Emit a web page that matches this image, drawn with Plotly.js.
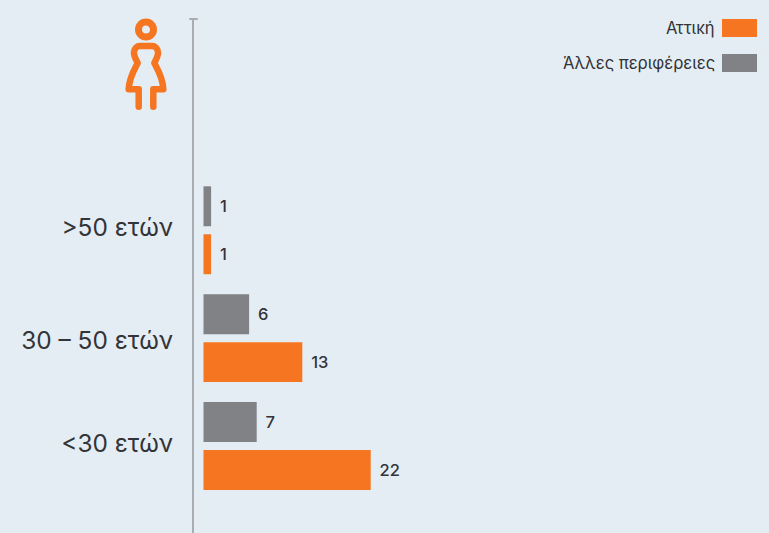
<!DOCTYPE html>
<html><head><meta charset="utf-8">
<script src="https://cdn.plot.ly/plotly-3.0.1.min.js"></script>
<style>html,body{margin:0;padding:0;background:#e4edf3}#c{width:769px;height:533px}
.shapelayer path{stroke-linejoin:round;stroke-linecap:round}</style></head>
<body><div id="c"></div>
<script>
const categories = ['<30 ετών', '30 – 50 ετών', '>50 ετών'];
const seriesNames = ['Αττική', 'Άλλες περιφέρειες'];
const attiki = [22, 13, 1];
const alles = [7, 6, 1];
const tickPositions = [0.02, 0.98, 2.03];

const W = 769, H = 533, L = 194, T = 19;
const px = x => (x - L) / (W - L);
const py = y => 1 - (y - T) / (H - T);
const ORANGE = '#f57520', GRAY = '#818285', TEXT = '#333438', FONT = 'Inter, "Noto Sans", sans-serif';

const iconPts = 'M138.7 106.7 L138.7 89.3 L128.7 89.3 C129 78 134 70 137.7 63 C135 58 133.5 55 134 52 C134.5 48 137 46 140 46 L152 46 C155 46 157.5 48 158 52 C158.5 55 157 58 154.3 63 C158 70 163 78 163.3 89.3 L153.3 89.3 L153.3 106.7';
const iconPath = iconPts.replace(/([MLC ])\s*(\d+\.?\d*) (\d+\.?\d*)/g, (m, c, a, b) => `${c}${px(+a).toFixed(5)},${py(+b).toFixed(5)}`);

function bar(name, vals, color) {
  return {
    type: 'bar', orientation: 'h', name, y: categories, x: vals,
    marker: {color, line: {width: 0}},
    text: vals.map(v => '\u00a0\u200a' + v), textposition: 'outside', cliponaxis: false,
    textfont: {family: FONT, size: 16.5, color: TEXT, weight: 500},
    hoverinfo: 'x+y'
  };
}

const legendRows = [
  {label: seriesNames[0], color: ORANGE, yc: 28},
  {label: seriesNames[1], color: GRAY, yc: 63}
];

const layout = {
  width: W, height: H,
  margin: {l: L, r: 0, t: T, b: 0, pad: 0},
  paper_bgcolor: '#e4edf3', plot_bgcolor: '#e4edf3',
  barmode: 'group', bargap: 0.111, bargroupgap: 0.167,
  showlegend: false,
  font: {family: FONT, color: TEXT},
  xaxis: {range: [-1.25, 74.4], visible: false, fixedrange: true},
  yaxis: {
    type: 'category', categoryorder: 'array', categoryarray: categories,
    range: [-0.806, 3.958], fixedrange: true,
    showline: true, linecolor: '#a9adb1', linewidth: 2, showgrid: false, zeroline: false,
    tickmode: 'array', tickvals: tickPositions, ticktext: categories,
    ticks: '', ticklabelstandoff: 14,
    tickfont: {family: FONT, size: 24.4, color: TEXT}
  },
  shapes: [
    {type: 'line', xref: 'paper', yref: 'paper', x0: px(190), x1: px(197), y0: py(19), y1: py(19), line: {color: '#a9adb1', width: 2}},
    {type: 'circle', xref: 'paper', yref: 'paper', x0: px(138.5), x1: px(153.5), y0: py(37), y1: py(22), line: {color: ORANGE, width: 7}},
    {type: 'path', xref: 'paper', yref: 'paper', path: iconPath, line: {color: ORANGE, width: 6.5}},
  ].concat(legendRows.map(r => ({
    type: 'rect', xref: 'paper', yref: 'paper', x0: px(722), x1: px(757), y0: py(r.yc - 9), y1: py(r.yc + 9),
    fillcolor: r.color, line: {width: 0}
  }))),
  annotations: legendRows.map(r => ({
    xref: 'paper', yref: 'paper', x: px(717), y: py(r.yc), xanchor: 'right', yanchor: 'middle',
    text: r.label, showarrow: false, font: {family: FONT, size: 16.6, color: TEXT}
  }))
};

Plotly.newPlot('c', [bar(seriesNames[0], attiki, ORANGE), bar(seriesNames[1], alles, GRAY)], layout, {displayModeBar: false, staticPlot: true});
</script></body></html>
